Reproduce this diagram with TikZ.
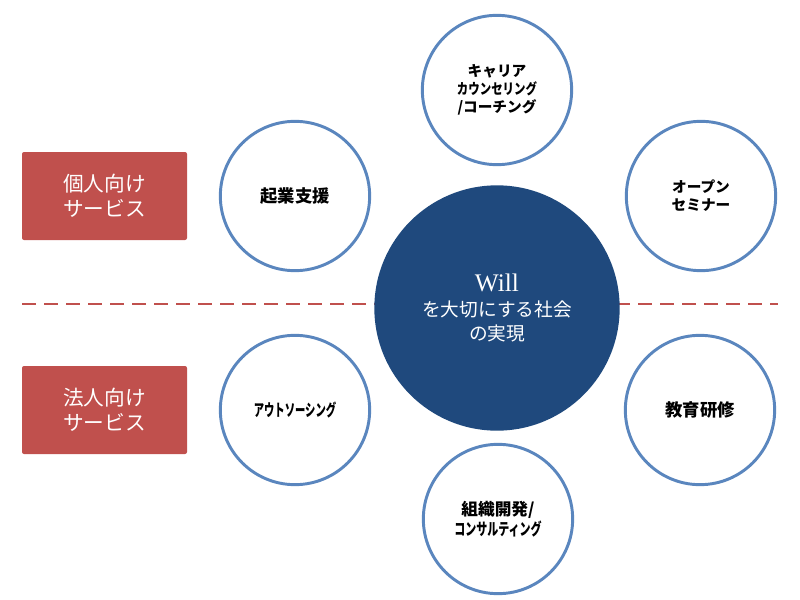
\documentclass[tikz,border=0pt]{standalone}
\usepackage{fontspec}
\usepackage{graphicx}
\newfontfamily\jp{Noto Sans CJK JP}
\newfontfamily\lser{Liberation Serif}
\definecolor{boxred}{HTML}{C0504D}
\definecolor{navy}{HTML}{1F497D}
\definecolor{ring}{HTML}{5A86BE}
\newcommand{\nk}[2]{\scalebox{#1}[1]{#2}}
\begin{document}
\begin{tikzpicture}[x=0.75pt,y=-0.75pt,
  svc/.style={circle,draw=ring,line width=2.2pt,fill=white,minimum size=112pt,inner sep=0pt,align=center,font=\jp\bfseries\fontsize{11}{13.5}\selectfont},
  grp/.style={rectangle,rounded corners=1.5pt,fill=boxred,minimum width=123.75pt,minimum height=66pt,align=center,text=white,font=\jp\fontsize{15.5}{19}\selectfont},
  core/.style={circle,fill=navy,minimum size=184pt,inner sep=0pt,align=center,text=white,font=\jp\fontsize{14}{18}\selectfont}]
\useasboundingbox (0,0) rectangle (800,600);
\coordinate (dl) at (22,304);
\coordinate (dr) at (778,304);
\draw[boxred,line width=2.2pt,dash pattern=on 10.5pt off 6pt] (dl) -- (dr);

\node[grp] (kojin) at (104.5,196) {個人向け\\サービス};
\node[grp] (hojin) at (104.5,410) {法人向け\\サービス};

\node[core] (will) at (497,308) {{\lser\fontsize{19}{21}\selectfont Will}\\[1pt]を大切にする社会\\の実現};

\node[svc] (career) at (497,90) {キャリア\\\nk{0.78}{カウンセリング}\\/コーチング};
\node[svc,font=\jp\bfseries\fontsize{13}{15}\selectfont] (kigyo) at (295,196) {起業支援};
\node[svc] (seminar) at (701,196) {オープン\\セミナー};
\node[svc,font=\jp\bfseries\fontsize{12.5}{15}\selectfont] (out) at (295,410) {\nk{0.62}{アウトソーシング}};
\node[svc,font=\jp\bfseries\fontsize{13}{15}\selectfont] (kyoiku) at (700,410) {教育研修};
\node[svc,font=\jp\bfseries\fontsize{12.5}{15}\selectfont] (soshiki) at (498,519) {組織開発/\\\nk{0.66}{コンサルティング}};
\end{tikzpicture}
\end{document}
